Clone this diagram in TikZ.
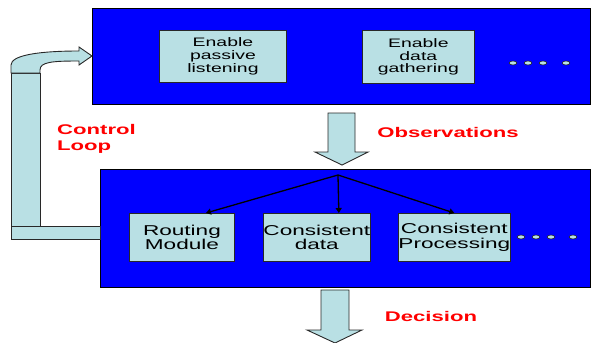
\documentclass[tikz,border=0pt]{standalone}
\usepackage{fontspec}
\setmainfont{Liberation Sans}
\newfontfamily\widesans[FakeStretch=1.58]{Liberation Sans}
\usetikzlibrary{positioning,arrows.meta,calc}
\definecolor{panelblue}{RGB}{0,0,255}
\definecolor{boxcyan}{RGB}{185,224,228}
\definecolor{edgegray}{RGB}{40,40,40}
\tikzset{
  panel/.style={draw=black, line width=1.3pt, fill=panelblue, anchor=north west, inner sep=0pt},
  module/.style={draw=edgegray, line width=0.9pt, fill=boxcyan, anchor=north west,
    inner sep=0pt, align=center},
  topmodule/.style={module, font=\widesans\fontsize{12.3}{12.8}\selectfont},
  lowmodule/.style={module, font=\widesans\fontsize{14.3}{14.6}\selectfont},
  blockarrow/.style={draw=edgegray, line width=0.9pt, fill=boxcyan, line join=miter},
  fanarrow/.style={line width=1.3pt, -{Triangle[length=5pt,width=6pt]}},
  redlabel/.style={text=red, inner sep=0pt, font=\widesans\bfseries\fontsize{14}{16}\selectfont},
  dots/.style={draw=edgegray, line width=0.6pt, fill=boxcyan}
}

\begin{document}
\begin{tikzpicture}[x=1pt, y=-1pt]
    \useasboundingbox (0,0) rectangle (595,343);

    % the two panels
    \node[panel, minimum width=498pt, minimum height=96pt] (sense) at (92,8) {};
    \node[panel, minimum width=490pt, minimum height=118pt] (plan) at (100,169) {};

    % feedback pipe from the lower panel back to the upper one
    \draw[blockarrow] (11,226) rectangle (100,239);
    \draw[blockarrow] (11,73) rectangle (40,226);
    \draw[blockarrow] (11,73) -- (11,65) .. controls (11,55) and (40,51) .. (79,51)
      -- (79,47) -- (92,56) -- (79,65) -- (79,61)
      .. controls (52,61) and (40,62) .. (40,70) -- (40,73) -- cycle;

    % upper panel
    \node[topmodule, minimum width=127pt, minimum height=52pt] (listen) at (159,30)
      {Enable\\passive\\listening};
    \node[topmodule, minimum width=112pt, minimum height=53pt, right=75pt of listen.north east,
      anchor=north west] (gather) {Enable\\data\\gathering};
    \foreach \dx in {513,528,543,566}
      \draw[dots] (\dx,63) ellipse [x radius=3.8pt, y radius=2pt];

    % lower panel
    \node[lowmodule, minimum width=105pt, minimum height=48pt] (routing) at (129,213)
      {Routing\\Module};
    \node[lowmodule, minimum width=105pt, minimum height=48pt] (cdata) at (263,213)
      {Consistent\\data};
    \node[lowmodule, minimum width=104pt, minimum height=48pt] (cproc) at (398,213)
      {Consistent\\Processing};
    \foreach \dx in {521,536,551,573}
      \draw[dots] (\dx,237) ellipse [x radius=3.8pt, y radius=2pt];

    \coordinate (fan) at (338,175);
    \draw[fanarrow] (fan) -- ([xshift=24pt]routing.north);
    \draw[fanarrow] (fan) -- ([xshift=22pt]cdata.north);
    \draw[fanarrow] (fan) -- (cproc.north);

    % block arrows
    \draw[blockarrow] (328,113) -- (355,113) -- (355,152) -- (368,152) -- (342,165)
      -- (315,152) -- (328,152) -- cycle;
    \draw[blockarrow] (321,290) -- (349,290) -- (349,330) -- (362,330) -- (335,343)
      -- (307,330) -- (321,330) -- cycle;

    % labels
    \node[redlabel, anchor=north west, align=left] (loop) at (57,124) {Control\\Loop};
    \node[redlabel] (obs) at (448,132) {Observations};
    \node[redlabel] (decision) at (431,316) {Decision};
\end{tikzpicture}
\end{document}
